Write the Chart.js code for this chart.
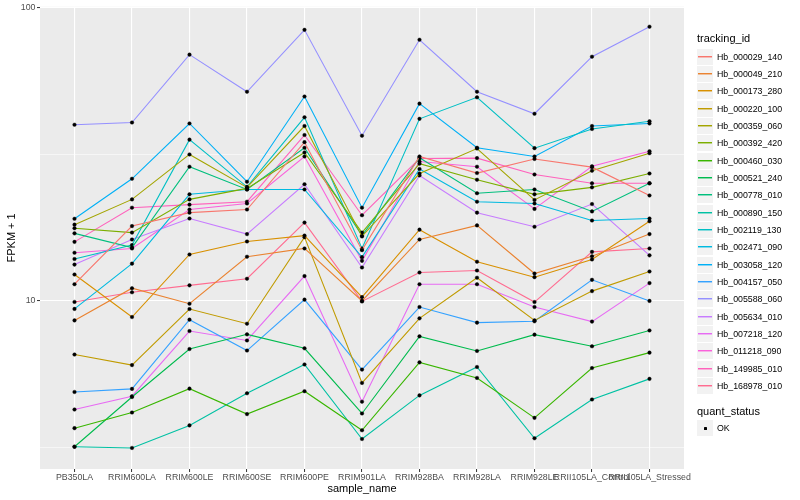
<!DOCTYPE html>
<html>
<head>
<meta charset="utf-8">
<script src="https://cdn.jsdelivr.net/npm/chart.js@4/dist/chart.umd.min.js"></script>
<style>
html,body{margin:0;padding:0;background:#fff;}
#wrap{position:relative;width:800px;height:500px;font-family:"Liberation Sans",Arial,sans-serif;overflow:hidden;}
#c{position:absolute;left:0;top:0;}
.lt{position:absolute;left:697px;font-size:11px;line-height:13px;color:#000;white-space:nowrap;}
.key{position:absolute;left:697px;width:16px;height:16px;background:#F2F2F2;}
.key .ln{position:absolute;left:1px;right:1px;top:7px;height:1px;}
.key .ln2{position:absolute;left:1px;right:1px;top:8px;height:1px;opacity:0.45;}
.key .dot{position:absolute;left:6.5px;top:6.5px;width:3px;height:3px;background:#000;border-radius:0.6px;}
.lab{position:absolute;left:717px;font-size:8.8px;line-height:10px;color:#000;white-space:nowrap;}
</style>
</head>
<body>
<div id="wrap">
<canvas id="c" width="800" height="500"></canvas>
<div id="legend"></div>
</div>
<script>
// ---- data ----
const categories = ["PB350LA","RRIM600LA","RRIM600LE","RRIM600SE","RRIM600PE","RRIM901LA","RRIM928BA","RRIM928LA","RRIM928LE","RRII105LA_Control","RRII105LA_Stressed"];
const seriesNames = ["Hb_000029_140","Hb_000049_210","Hb_000173_280","Hb_000220_100","Hb_000359_060","Hb_000392_420","Hb_000460_030","Hb_000521_240","Hb_000778_010","Hb_000890_150","Hb_002119_130","Hb_002471_090","Hb_003058_120","Hb_004157_050","Hb_005588_060","Hb_005634_010","Hb_007218_120","Hb_011218_090","Hb_149985_010","Hb_168978_010"];
const hb_000029_140 = [11.4, 18.0, 20.0, 20.5, 34.8, 14.9, 31.1, 27.3, 30.5, 28.6, 22.9];
const hb_000049_210 = [8.58, 11.05, 9.78, 14.15, 15.1, 10.0, 16.2, 18.1, 12.4, 14.2, 16.9];
const hb_000173_280 = [12.3, 8.81, 14.4, 15.95, 16.7, 10.3, 17.5, 13.6, 12.05, 13.85, 18.7];
const hb_000220_100 = [6.56, 6.04, 9.38, 8.36, 16.5, 5.25, 8.72, 12.0, 8.58, 10.8, 12.6];
const hb_000359_060 = [18.2, 22.2, 31.6, 24.4, 39.5, 16.6, 27.2, 33.1, 22.1, 27.8, 31.9];
const hb_000392_420 = [17.7, 17.1, 22.2, 24.2, 32.1, 17.1, 29.4, 25.9, 23.1, 24.4, 27.2];
const hb_000460_030 = [3.68, 4.16, 5.02, 4.11, 4.92, 3.62, 6.17, 5.46, 3.99, 5.90, 6.66];
const hb_000521_240 = [3.18, 4.70, 6.85, 7.69, 6.89, 4.13, 7.57, 6.75, 7.67, 7.00, 7.93];
const hb_000778_010 = [17.0, 15.2, 28.7, 24.0, 33.3, 16.7, 30.8, 23.3, 24.0, 20.2, 25.2];
const hb_000890_150 = [3.18, 3.15, 3.76, 4.84, 6.07, 3.38, 4.76, 5.95, 3.40, 4.61, 5.42];
const hb_002119_130 = [13.9, 15.5, 35.5, 24.5, 42.3, 15.1, 41.8, 49.5, 33.2, 38.6, 41.0];
const hb_002471_090 = [9.39, 13.4, 23.1, 24.0, 24.0, 14.1, 28.2, 21.8, 21.5, 18.8, 19.1];
const hb_003058_120 = [19.06, 26.1, 40.3, 25.5, 49.8, 20.8, 47.1, 33.3, 31.1, 39.5, 40.3];
const hb_004157_050 = [4.89, 5.01, 8.63, 6.77, 10.1, 5.83, 9.53, 8.43, 8.52, 11.8, 10.0];
const hb_005588_060 = [39.9, 40.6, 69.2, 51.7, 84.1, 36.6, 77.8, 51.7, 43.5, 68.1, 86.2];
const hb_005634_010 = [13.3, 16.2, 19.1, 16.9, 25.0, 13.0, 26.8, 20.0, 17.9, 21.4, 14.3];
const hb_007218_120 = [4.26, 4.73, 7.89, 7.33, 12.15, 4.53, 11.4, 11.4, 9.53, 8.50, 11.5];
const hb_011218_090 = [14.6, 15.1, 20.5, 21.5, 31.1, 13.7, 29.9, 28.7, 20.6, 28.8, 32.4];
const hb_149985_010 = [15.9, 20.8, 21.3, 21.8, 36.8, 19.6, 30.6, 30.7, 27.0, 25.2, 25.2];
const hb_168978_010 = [9.92, 10.7, 11.3, 11.9, 18.5, 9.96, 12.5, 12.7, 9.91, 14.7, 15.1];
const seriesValues = [hb_000029_140, hb_000049_210, hb_000173_280, hb_000220_100, hb_000359_060, hb_000392_420, hb_000460_030, hb_000521_240, hb_000778_010, hb_000890_150, hb_002119_130, hb_002471_090, hb_003058_120, hb_004157_050, hb_005588_060, hb_005634_010, hb_007218_120, hb_011218_090, hb_149985_010, hb_168978_010];
const yMajorTicks = [10, 100];
const yMinorTicks = [3.1623, 31.623];
const quantLevels = ["OK"];

// ---- style ----
const seriesColors = ["#F8766D","#EA8331","#D89000","#C09B00","#A3A500","#7CAE00","#39B600","#00BB4E","#00BF7D","#00C1A3","#00BFC4","#00BAE0","#00B0F6","#35A2FF","#9590FF","#C77CFF","#E76BF3","#FA62DB","#FF62BC","#FF6C91"];
const FONT = '"Liberation Sans", Arial, sans-serif';

const panelBg = {
  id: 'panelBg',
  beforeDraw(chart) {
    const {ctx, chartArea: a} = chart;
    ctx.save();
    ctx.fillStyle = '#EBEBEB';
    ctx.fillRect(a.left, a.top, a.right - a.left, a.bottom - a.top);
    ctx.restore();
  }
};

const datasets = seriesNames.map((name, s) => ({
  label: name,
  data: seriesValues[s].map((v, i) => ({x: i, y: v})),
  borderColor: seriesColors[s],
  backgroundColor: seriesColors[s],
  borderWidth: 1.1,
  pointRadius: 1.8,
  pointStyle: 'circle',
  pointBackgroundColor: '#000',
  pointBorderColor: '#000',
  pointBorderWidth: 0.4,
  tension: 0,
  fill: false
}));

new Chart(document.getElementById('c'), {
  type: 'line',
  data: { datasets },
  plugins: [panelBg],
  options: {
    responsive: false,
    animation: false,
    events: [],
    layout: { padding: { left: 0, top: 6, right: 116, bottom: 0 } },
    plugins: { legend: { display: false }, tooltip: { enabled: false } },
    scales: {
      x: {
        type: 'linear',
        min: -0.6,
        max: categories.length - 1 + 0.6,
        afterBuildTicks: (sc) => { sc.ticks = categories.map((c, i) => ({ value: i })); },
        afterFit: (sc) => { sc.height = 31; },
        grid: { color: '#FFFFFF', lineWidth: 1.1, drawTicks: true, tickLength: 3, tickColor: '#333333', tickWidth: 1 },
        border: { display: false },
        ticks: {
          autoSkip: false, maxRotation: 0, minRotation: 0, padding: 0.5,
          color: '#4D4D4D', font: { family: FONT, size: 8.8 },
          callback: (v) => categories[v]
        },
        title: { display: true, text: 'sample_name', color: '#000', font: { family: FONT, size: 11 }, padding: { top: 0, bottom: 4 } }
      },
      y: {
        type: 'logarithmic',
        min: 2.67,
        max: 100.8,
        afterBuildTicks: (sc) => {
          sc.ticks = yMinorTicks.concat(yMajorTicks).sort((a, b) => a - b).map(v => ({ value: v }));
        },
        afterFit: (sc) => { sc.width = 40; },
        grid: {
          color: '#FFFFFF',
          lineWidth: (ctx) => (yMajorTicks.includes(ctx.tick && ctx.tick.value) ? 1.1 : 0.55),
          drawTicks: true, tickLength: 3,
          tickColor: (ctx) => (yMajorTicks.includes(ctx.tick && ctx.tick.value) ? '#333333' : 'rgba(0,0,0,0)'),
          tickWidth: 1
        },
        border: { display: false },
        ticks: {
          padding: 1.5, color: '#4D4D4D', font: { family: FONT, size: 8.8 },
          callback: (v) => (yMajorTicks.includes(v) ? String(v) : '')
        },
        title: { display: true, text: 'FPKM + 1', color: '#000', font: { family: FONT, size: 11 }, padding: { top: 5, bottom: 0 } }
      }
    }
  }
});

// ---- legend (HTML text) ----
const lg = document.getElementById('legend');
function add(html) { lg.insertAdjacentHTML('beforeend', html); }
add('<div class="lt" style="top:' + (38.5 - 6.5) + 'px">tracking_id</div>');
seriesNames.forEach((n, i) => {
  const cy = 56.7 + i * 17.33;
  add('<div class="key" style="top:' + Math.round(cy - 8) + 'px"><div class="ln" style="background:' + seriesColors[i] + '"></div><div class="ln2" style="background:' + seriesColors[i] + '"></div></div>');
  add('<div class="lab" style="top:' + (cy - 5) + 'px">' + n + '</div>');
});
add('<div class="lt" style="top:' + (411.5 - 6.5) + 'px">quant_status</div>');
quantLevels.forEach((q, i) => {
  const cy = 428.3 + i * 17.33;
  add('<div class="key" style="top:' + Math.round(cy - 8) + 'px"><div class="dot"></div></div>');
  add('<div class="lab" style="top:' + (cy - 5) + 'px">' + q + '</div>');
});
</script>
</body>
</html>
